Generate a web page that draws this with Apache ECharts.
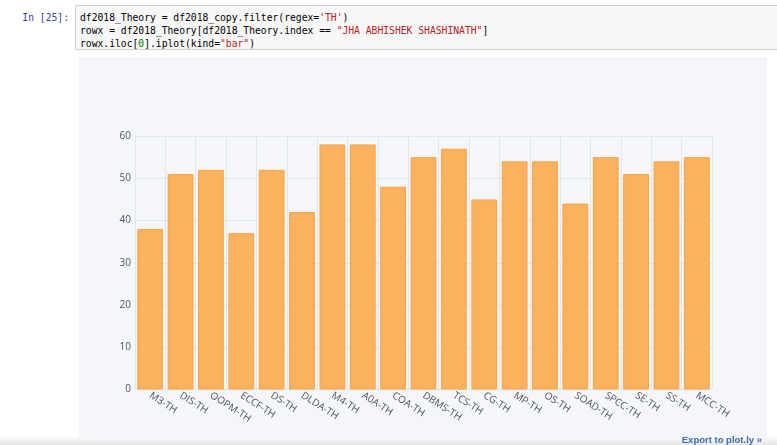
<!DOCTYPE html>
<html>
<head>
<meta charset="utf-8">
<script src="https://cdn.jsdelivr.net/npm/echarts@6/dist/echarts.min.js"></script>
<style>
  html, body { margin: 0; padding: 0; background: #fff; width: 777px; height: 445px; overflow: hidden; }
  .prompt {
    position: absolute; left: 20px; top: 11px; width: 49px; text-align: right;
    font: 9.7px "DejaVu Sans Mono", monospace; color: #303f9f; line-height: 13px;
  }
  .code {
    position: absolute; left: 75px; top: 5px; width: 720px; height: 45px;
    background: #f7f7f7; border: 1px solid #cfcfcf; border-radius: 2px; box-sizing: border-box;
    padding: 5px 0 0 4px;
    font: 9.7px "DejaVu Sans Mono", monospace; color: #000; line-height: 13px; white-space: pre;
  }
  .s { color: #ba2121; }
  .n { color: #008000; }
  #chart { position: absolute; left: 79px; top: 57px; width: 688px; height: 388px; }
  .shade {
    position: absolute; left: 0; top: 437px; width: 777px; height: 8px;
    background: linear-gradient(#fafafa, #e6e6e6);
  }
  .export {
    position: absolute; right: 15px; top: 434px;
    font: bold 9.5px "Liberation Sans", Arial, sans-serif; color: #3d6bb3;
  }
</style>
</head>
<body>
<div class="prompt">In [25]:</div>
<div class="code">df2018_Theory = df2018_copy.filter(regex=<span class="s">'TH'</span>)
rowx = df2018_Theory[df2018_Theory.index == <span class="s">"JHA ABHISHEK SHASHINATH"</span>]
rowx.iloc[<span class="n">0</span>].iplot(kind=<span class="s">"bar"</span>)</div>
<div id="chart"></div>
<div class="shade"></div>
<div class="export">Export to plot.ly »</div>
<script>
const subjects = ['M3-TH', 'DIS-TH', 'OOPM-TH', 'ECCF-TH', 'DS-TH', 'DLDA-TH', 'M4-TH', 'A0A-TH', 'COA-TH',
  'DBMS-TH', 'TCS-TH', 'CG-TH', 'MP-TH', 'OS-TH', 'SOAD-TH', 'SPCC-TH', 'SE-TH', 'SS-TH', 'MCC-TH']
const marks = [38, 51, 52, 37, 52, 42, 58, 58, 48, 55, 57, 45, 54, 54, 44, 55, 51, 54, 55]
const yTicks = [0, 10, 20, 30, 40, 50, 60]

const chart = echarts.init(document.getElementById('chart'))

const tickColor = '#4D5663'
const gridColor = '#E1E5ED'

chart.setOption({
  backgroundColor: '#F5F6F9',
  animation: false,
  grid: { left: 56, right: 55, top: 79, bottom: 55.5 },
  xAxis: {
    type: 'category',
    data: subjects,
    axisLine: { show: false },
    axisTick: { show: false },
    axisLabel: {
      rotate: -33, margin: 5, interval: 0,
      color: tickColor, fontFamily: 'Open Sans', fontSize: 10,
    },
    splitLine: { show: true, interval: 0, lineStyle: { color: gridColor, width: 1 } },
  },
  yAxis: {
    type: 'value',
    min: yTicks[0],
    max: yTicks[yTicks.length - 1],
    interval: 10,
    axisLine: { show: false },
    axisTick: { show: false },
    axisLabel: { margin: 4, color: tickColor, fontFamily: 'Open Sans', fontSize: 10 },
    splitLine: { lineStyle: { color: gridColor, width: 1 } },
  },
  series: [{
    type: 'bar',
    data: marks,
    barCategoryGap: '15%',
    itemStyle: {
      color: '#fab25e',
      borderColor: '#f8a445',
      borderWidth: 1,
    },
  }],
})
</script>
</body>
</html>
